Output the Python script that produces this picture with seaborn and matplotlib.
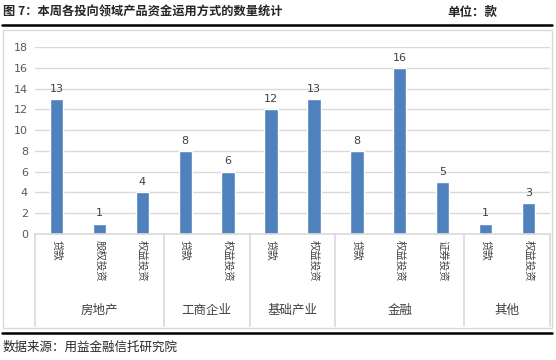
import matplotlib
matplotlib.use("Agg")
import matplotlib.pyplot as plt
import matplotlib.transforms as mtransforms
import seaborn as sns
import pandas as pd

# 数据
groups = ["房地产", "工商企业", "基础产业", "金融", "其他"]
methods = [
    ["贷款", "股权投资", "权益投资"],
    ["贷款", "权益投资"],
    ["贷款", "权益投资"],
    ["贷款", "权益投资", "证券投资"],
    ["贷款", "权益投资"],
]
counts = [
    [13, 1, 4],
    [8, 6],
    [12, 13],
    [8, 16, 5],
    [1, 3],
]
y_ticks = [0, 2, 4, 6, 8, 10, 12, 14, 16, 18]

rows = []
for g, ms, cs in zip(groups, methods, counts):
    for m, c in zip(ms, cs):
        rows.append({"group": g, "method": m, "count": c})
df = pd.DataFrame(rows)
df["pos"] = range(len(df))

sns.set_style("white")
plt.rcParams["font.family"] = ["Noto Sans CJK SC", "DejaVu Sans"]

W, H = 556, 360
fig = plt.figure(figsize=(W / 100, H / 100), dpi=100)

def fx(px):
    return px / W

def fy(py):
    return 1 - py / H

ax_left, ax_right, ax_top, ax_bot = 35, 550, 47, 234
ax = fig.add_axes([fx(ax_left), fy(ax_bot), fx(ax_right - ax_left), fy(ax_top) - fy(ax_bot)])

sns.barplot(data=df, x="pos", y="count", color="#4F81BD", width=0.31,
            saturation=1, ax=ax, order=list(df["pos"]))

ax.set_ylim(0, 18)
ax.set_xlim(-0.5, len(df) - 0.5)
ax.set_yticks(y_ticks)
ax.set_yticklabels([str(t) for t in y_ticks], fontsize=8, color="#595959",
                   family="DejaVu Sans")
ax.yaxis.grid(True, color="#D9D9D9", linewidth=1)
ax.set_axisbelow(True)
for s in ["top", "right", "left"]:
    ax.spines[s].set_visible(False)
ax.spines["bottom"].set_color("#D9D9D9")
ax.spines["bottom"].set_linewidth(1.2)
ax.tick_params(axis="y", length=0, pad=5)
ax.tick_params(axis="x", length=0, pad=4)
ax.set_xlabel("")
ax.set_ylabel("")

ax.set_xticks(list(df["pos"]))
ax.set_xticklabels(list(df["method"]), rotation=-90, fontsize=7.5,
                   color="#404040", va="top")

# 数值标签
for p, c in zip(df["pos"], df["count"]):
    ax.text(p, c + 0.5, str(c), ha="center", va="bottom", fontsize=8,
            color="#404040", family="DejaVu Sans")

# 分组分隔线和分组标签
trans = mtransforms.blended_transform_factory(ax.transData, ax.transAxes)
bounds = [-0.5]
for cs in counts:
    bounds.append(bounds[-1] + len(cs))
for b in bounds:
    ax.plot([b, b], [0, -0.49], transform=trans, color="#D9D9D9",
            linewidth=1.2, clip_on=False)
for g, a, b in zip(groups, bounds[:-1], bounds[1:]):
    ax.text((a + b) / 2, -0.41, g, transform=trans, ha="center", va="center",
            fontsize=9, color="#404040")

# 图框和标题
fig.patches.append(plt.Rectangle((fx(3), fy(328)), fx(549), fy(30) - fy(328),
                                 transform=fig.transFigure, fill=False,
                                 edgecolor="#D9D9D9", linewidth=1))
fig.add_artist(plt.Line2D([fx(2), fx(552)], [fy(25), fy(25)], color="black", linewidth=1.8))
fig.add_artist(plt.Line2D([fx(2), fx(552)], [fy(333), fy(333)], color="black", linewidth=1.8))

fig.text(fx(3), fy(12), "图 7：本周各投向领域产品资金运用方式的数量统计", fontsize=8.8,
         fontweight="bold", va="center", ha="left")
fig.text(fx(497), fy(12), "单位：款", fontsize=9, fontweight="bold", va="center", ha="right")
fig.text(fx(3), fy(347), "数据来源：用益金融信托研究院", fontsize=9, va="center", ha="left")

fig.savefig("out.png", dpi=100)
